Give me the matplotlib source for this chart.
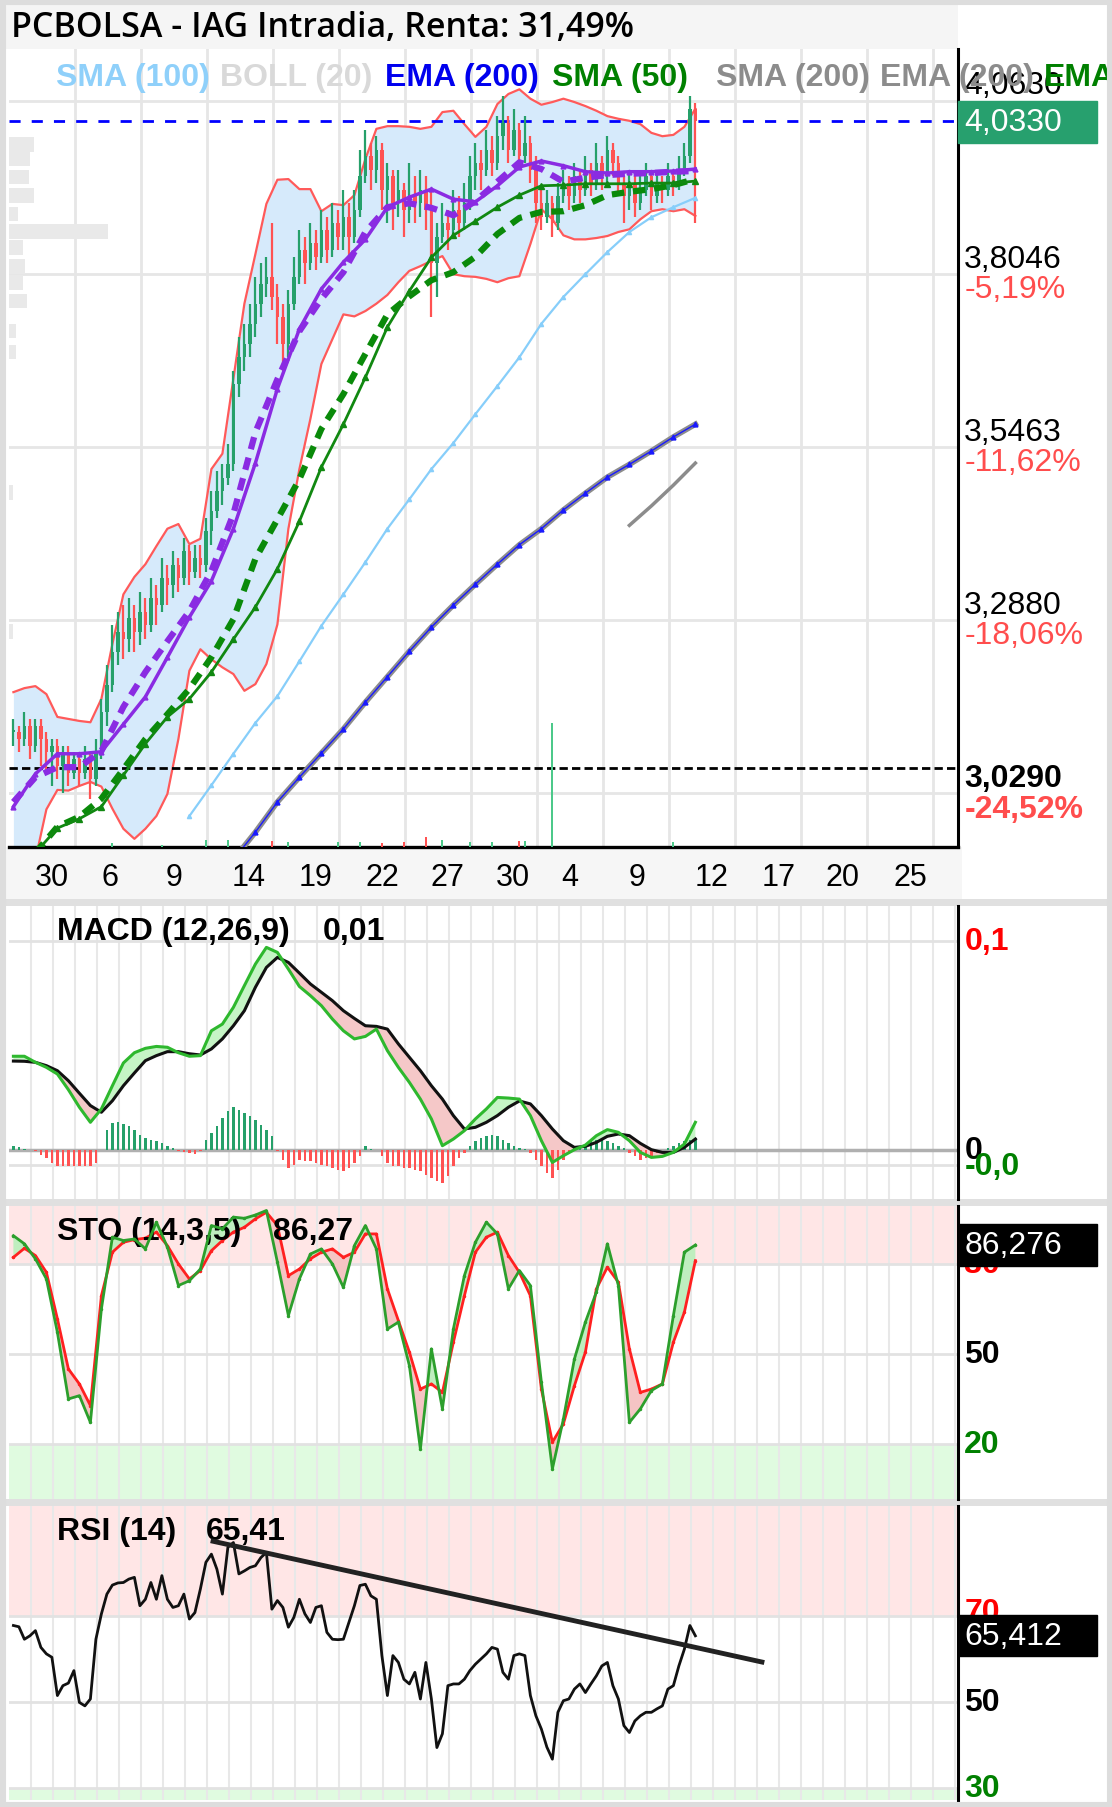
import numpy as np
import matplotlib.pyplot as plt
from matplotlib.patches import Rectangle
from matplotlib.transforms import blended_transform_factory

plt.rcParams['font.family'] = ['Liberation Sans', 'DejaVu Sans']

# ---------------- datos (indice = barra intradia) ----------------
close = [3.12, 3.11, 3.13, 3.10, 3.13, 3.11, 3.09, 3.10, 3.07, 3.09,
         3.06, 3.08, 3.06, 3.08, 3.05, 3.09, 3.15, 3.19, 3.24, 3.27,
         3.26, 3.29, 3.27, 3.30, 3.28, 3.32, 3.31, 3.35, 3.34, 3.37,
         3.35, 3.39, 3.36, 3.38, 3.37, 3.42, 3.45, 3.48, 3.50, 3.52,
         3.64, 3.68, 3.70, 3.73, 3.76, 3.79, 3.80, 3.77, 3.74, 3.70,
         3.76, 3.80, 3.84, 3.82, 3.85, 3.83, 3.87, 3.84, 3.88, 3.86,
         3.89, 3.86, 3.90, 3.95, 3.98, 3.96, 3.99, 3.93, 3.95, 3.91,
         3.93, 3.90, 3.92, 3.91, 3.93, 3.90, 3.82, 3.86, 3.88, 3.87,
         3.90, 3.88, 3.91, 3.95, 3.97, 3.96, 3.99, 3.97, 4.01, 4.03,
         3.99, 4.02, 3.98, 4.00, 3.96, 3.91, 3.89, 3.91, 3.88, 3.92,
         3.94, 3.92, 3.95, 3.93, 3.96, 3.94, 3.97, 3.95, 3.99, 3.97,
         3.94, 3.92, 3.94, 3.91, 3.93, 3.95, 3.92, 3.94, 3.93, 3.95,
         3.94, 3.96, 3.98, 4.05, 4.033]
high = [3.14, 3.13, 3.15, 3.14, 3.14, 3.14, 3.12, 3.11, 3.11, 3.10,
        3.10, 3.09, 3.09, 3.10, 3.09, 3.11, 3.17, 3.22, 3.28, 3.30,
        3.31, 3.32, 3.31, 3.33, 3.32, 3.35, 3.34, 3.38, 3.37, 3.39,
        3.38, 3.41, 3.40, 3.40, 3.40, 3.44, 3.48, 3.51, 3.52, 3.55,
        3.66, 3.71, 3.73, 3.76, 3.80, 3.82, 3.83, 3.88, 3.79, 3.76,
        3.78, 3.83, 3.87, 3.86, 3.88, 3.87, 3.90, 3.89, 3.91, 3.90,
        3.93, 3.91, 3.93, 3.99, 4.02, 4.00, 4.01, 4.00, 3.97, 3.96,
        3.96, 3.94, 3.97, 3.95, 3.96, 3.95, 3.93, 3.88, 3.91, 3.90,
        3.93, 3.92, 3.94, 3.98, 4.00, 3.99, 4.02, 4.01, 4.04, 4.07,
        4.04, 4.05, 4.03, 4.04, 4.01, 3.98, 3.93, 3.93, 3.92, 3.94,
        3.96, 3.95, 3.97, 3.96, 3.98, 3.97, 4.00, 3.98, 4.01, 4.00,
        3.98, 3.95, 3.96, 3.95, 3.95, 3.97, 3.96, 3.96, 3.95, 3.97,
        3.96, 3.98, 4.00, 4.07, 4.06]
low = [3.10, 3.09, 3.10, 3.08, 3.09, 3.07, 3.06, 3.04, 3.05, 3.03,
       3.04, 3.05, 3.04, 3.05, 3.02, 3.04, 3.08, 3.13, 3.18, 3.22,
       3.23, 3.24, 3.24, 3.25, 3.26, 3.27, 3.28, 3.30, 3.31, 3.32,
       3.33, 3.34, 3.34, 3.35, 3.35, 3.36, 3.40, 3.44, 3.46, 3.49,
       3.51, 3.62, 3.66, 3.68, 3.71, 3.74, 3.77, 3.75, 3.70, 3.66,
       3.68, 3.75, 3.79, 3.79, 3.81, 3.81, 3.82, 3.82, 3.83, 3.84,
       3.84, 3.83, 3.85, 3.89, 3.94, 3.93, 3.94, 3.90, 3.88, 3.87,
       3.89, 3.86, 3.88, 3.88, 3.89, 3.87, 3.74, 3.77, 3.85, 3.84,
       3.86, 3.86, 3.87, 3.90, 3.93, 3.93, 3.95, 3.95, 3.96, 3.99,
       3.97, 3.98, 3.96, 3.97, 3.94, 3.88, 3.87, 3.88, 3.86, 3.87,
       3.91, 3.90, 3.91, 3.91, 3.92, 3.92, 3.93, 3.93, 3.94, 3.95,
       3.92, 3.88, 3.90, 3.89, 3.90, 3.92, 3.90, 3.91, 3.91, 3.92,
       3.92, 3.93, 3.95, 3.97, 3.88]

# Bollinger (20): una muestra cada 2 barras
boll_up = [3.180, 3.186, 3.189, 3.177, 3.143, 3.140, 3.137, 3.135, 3.170, 3.252,
           3.326, 3.352, 3.371, 3.398, 3.424, 3.431, 3.401, 3.409, 3.513, 3.536,
           3.648, 3.760, 3.834, 3.909, 3.945, 3.946, 3.931, 3.931, 3.898, 3.909,
           3.907, 3.922, 3.976, 4.021, 4.025, 4.025, 4.024, 4.021, 4.024, 4.046,
           4.048, 4.028, 4.009, 4.024, 4.058, 4.073, 4.080, 4.066, 4.057, 4.061,
           4.066, 4.061, 4.055, 4.048, 4.040, 4.036, 4.033, 4.028, 4.015, 4.010,
           4.012, 4.024, 4.051]
boll_lo = [2.900, 2.910, 2.930, 3.005, 3.034, 3.033, 3.040, 3.046, 3.039, 3.006,
           2.976, 2.961, 2.976, 2.995, 3.028, 3.110, 3.212, 3.244, 3.229, 3.217,
           3.207, 3.182, 3.192, 3.222, 3.281, 3.424, 3.513, 3.588, 3.670, 3.707,
           3.744, 3.741, 3.749, 3.760, 3.773, 3.792, 3.809, 3.816, 3.824, 3.831,
           3.804, 3.801, 3.800, 3.797, 3.792, 3.798, 3.801, 3.849, 3.901, 3.886,
           3.862, 3.856, 3.856, 3.858, 3.861, 3.867, 3.871, 3.886, 3.898, 3.901,
           3.898, 3.901, 3.891]

# medias moviles: una muestra cada 4 barras
purple_solid = [3.009, 3.058, 3.088, 3.088, 3.091, 3.132, 3.173, 3.232, 3.292, 3.346,
                3.424, 3.522, 3.633, 3.722, 3.782, 3.822, 3.856, 3.904, 3.919, 3.931,
                3.916, 3.912, 3.936, 3.964, 3.973, 3.966, 3.957, 3.955, 3.957, 3.957,
                3.958, 3.961]
purple_dash = [3.016, 3.053, 3.068, 3.068, 3.092, 3.158, 3.210, 3.256, 3.301, 3.361,
               3.446, 3.568, 3.647, 3.719, 3.767, 3.807, 3.867, 3.904, 3.910, 3.903,
               3.892, 3.913, 3.942, 3.971, 3.961, 3.942, 3.948, 3.952, 3.954, 3.955,
               3.957, 3.958]
sma50 = [2.940, 2.977, 2.991, 3.009, 3.056, 3.103, 3.143, 3.170, 3.210, 3.259,
         3.307, 3.364, 3.435, 3.516, 3.580, 3.650, 3.725, 3.779, 3.829, 3.862,
         3.883, 3.904, 3.922, 3.936, 3.937, 3.939, 3.939, 3.939, 3.940, 3.940,
         3.943]                      # desde la barra 4
green_dash = [2.940, 2.979, 2.994, 3.021, 3.065, 3.110, 3.147, 3.185, 3.232, 3.289,
              3.379, 3.438, 3.498, 3.573, 3.625, 3.685, 3.744, 3.771, 3.795, 3.807,
              3.830, 3.864, 3.888, 3.897, 3.898, 3.907, 3.922, 3.927, 3.931, 3.937,
              3.946]                 # desde la barra 4
sma100 = [2.995, 3.041, 3.088, 3.134, 3.174, 3.226, 3.279, 3.326, 3.374, 3.424,
          3.468, 3.513, 3.552, 3.595, 3.637, 3.680, 3.730, 3.770, 3.804, 3.837,
          3.867, 3.889, 3.904, 3.918]  # desde la barra 32
ema200 = [2.930, 2.971, 3.016, 3.053, 3.089, 3.125, 3.165, 3.203, 3.241, 3.277,
          3.310, 3.341, 3.371, 3.400, 3.424, 3.452, 3.477, 3.501, 3.520, 3.540,
          3.561, 3.580]              # desde la barra 40
sma200 = [3.429, 3.458, 3.489, 3.522]  # desde la barra 112

# volumen (barras sueltas) y perfil de volumen
vol_bar = [18, 27, 35, 39, 47, 50, 59, 63, 67, 71, 75, 78, 83, 87, 92, 93, 98, 120]
vol_val = [3, 2, 6, 6, 5, 4, 4, 4, 3, 4, 8, 6, 4, 4, 5, 5, 100, 4]
vol_up = [1, 1, 1, 1, 0, 1, 1, 1, 0, 0, 0, 1, 1, 1, 0, 1, 1, 1]
vp_price = [3.998, 3.976, 3.949, 3.921, 3.894, 3.868, 3.844, 3.816, 3.792, 3.764, 3.719, 3.688, 3.478, 3.270]
vp_vol = [4.5, 3.8, 3.6, 4.5, 1.6, 18.0, 2.5, 2.9, 2.5, 3.3, 1.3, 1.3, 0.7, 0.7]

grid_prices = [4.0630, 3.8046, 3.5463, 3.2880, 3.0290]
pct_labels = ['', '-5,19%', '-11,62%', '-18,06%', '-24,52%']
last_price = 4.033
ref_price = 3.067

xtick_pos = [7.0, 17.6, 29.2, 42.8, 55.0, 67.0, 79.0, 90.8, 101.2, 113.4, 127.0, 139.2, 150.8, 163.0]
xtick_lab = ['30', '6', '9', '14', '19', '22', '27', '30', '4', '9', '12', '17', '20', '25']

# MACD (12,26,9): una muestra cada 2 barras; histograma por barra (x 1e-4)
macd = [0.0447, 0.0447, 0.0418, 0.0394, 0.0362, 0.0287, 0.0203, 0.0131, 0.0195, 0.0306,
        0.0415, 0.0464, 0.0485, 0.0494, 0.0490, 0.0464, 0.0447, 0.0450, 0.0569, 0.0601,
        0.0681, 0.0785, 0.0888, 0.0968, 0.0944, 0.0864, 0.0781, 0.0737, 0.0689, 0.0625,
        0.0569, 0.0530, 0.0542, 0.0577, 0.0474, 0.0394, 0.0322, 0.0242, 0.0147, 0.0019,
        0.0051, 0.0091, 0.0147, 0.0195, 0.0250, 0.0247, 0.0242, 0.0163, 0.0043, -0.0061,
        -0.0029, 0.0000, 0.0022, 0.0067, 0.0096, 0.0083, 0.0043, -0.0013, -0.0037, -0.0032,
        -0.0013, 0.0027, 0.0131]
signal = [0.0424, 0.0423, 0.0418, 0.0402, 0.0378, 0.0330, 0.0270, 0.0211, 0.0179, 0.0234,
          0.0306, 0.0367, 0.0426, 0.0450, 0.0469, 0.0469, 0.0459, 0.0453, 0.0482, 0.0530,
          0.0593, 0.0665, 0.0777, 0.0872, 0.0920, 0.0896, 0.0845, 0.0793, 0.0753, 0.0713,
          0.0665, 0.0628, 0.0593, 0.0590, 0.0577, 0.0506, 0.0442, 0.0378, 0.0306, 0.0242,
          0.0163, 0.0099, 0.0107, 0.0131, 0.0163, 0.0203, 0.0233, 0.0219, 0.0163, 0.0099,
          0.0043, 0.0011, 0.0016, 0.0035, 0.0064, 0.0075, 0.0067, 0.0030, 0.0000, -0.0013,
          -0.0013, 0.0011, 0.0051]
hist_e4 = [19, 13, 5, 0, -8, -24, -40, -64, -77, -80,
           -80, -80, -80, -80, -77, -64, 0, 96, 128, 131,
           124, 112, 96, 72, 56, 48, 40, 32, 19, 10,
           -8, -13, -16, -19, -8, 48, 80, 112, 152, 183,
           203, 191, 175, 160, 144, 120, 96, 64, -8, -48,
           -88, -72, -48, -56, -56, -64, -72, -80, -88, -96,
           -104, -88, -64, -32, 16, 3, 0, -32, -64, -80,
           -80, -88, -88, -96, -104, -120, -136, -152, -160, -128,
           -80, -40, -16, 16, 40, 56, 64, 72, 64, 48,
           32, 19, 10, 3, -16, -48, -80, -112, -136, -96,
           -48, -16, 8, 19, 29, 40, 48, 48, 40, 32,
           19, 8, -16, -32, -48, -40, -29, -16, -3, 8,
           19, 32, 40, 48, 56]

# Estocastico (14,3,5): una muestra cada 2 barras
sto_k = [89.4, 86.7, 81.7, 75.0, 57.2, 35.0, 36.1, 27.2, 65.0, 88.9,
         87.8, 88.3, 85.0, 93.9, 85.6, 72.8, 74.4, 78.3, 92.8, 91.7,
         95.6, 95.2, 96.3, 97.8, 80.6, 62.8, 75.0, 83.3, 85.0, 80.0,
         72.2, 86.1, 92.8, 85.0, 58.3, 60.6, 46.1, 18.3, 51.7, 31.7,
         58.3, 76.1, 87.2, 93.9, 90.0, 71.7, 77.8, 72.8, 40.6, 11.7,
         28.3, 48.3, 60.6, 70.6, 86.7, 72.8, 27.2, 31.7, 37.8, 40.0,
         62.8, 83.9, 86.3]
sto_d = [82.2, 85.2, 82.8, 77.2, 61.7, 45.0, 40.0, 32.8, 69.4, 83.9,
         87.2, 88.1, 88.6, 90.6, 86.1, 80.0, 75.0, 77.8, 84.4, 87.8,
         90.6, 92.2, 95.0, 97.2, 92.8, 76.1, 78.3, 81.7, 83.9, 85.0,
         82.2, 83.9, 90.0, 90.0, 71.7, 61.1, 50.6, 38.3, 40.0, 37.2,
         53.9, 69.4, 83.9, 88.9, 90.6, 82.8, 77.2, 69.4, 38.3, 20.6,
         26.7, 39.4, 50.6, 71.7, 78.9, 73.9, 51.7, 37.2, 38.3, 40.0,
         53.9, 63.9, 81.1]

# RSI (14) por barra y directriz bajista
rsi = [67.8, 67.5, 64.6, 65.4, 66.6, 62.7, 61.2, 60.4, 51.5, 53.8,
       54.4, 57.3, 49.9, 49.1, 50.7, 64.6, 70.5, 75.1, 77.2, 77.7,
       77.8, 78.6, 79.0, 72.4, 73.9, 77.8, 73.9, 79.4, 73.9, 72.0,
       72.4, 75.1, 69.3, 70.8, 76.3, 82.5, 84.4, 80.9, 75.1, 86.0,
       87.1, 79.8, 80.5, 81.3, 81.7, 83.6, 84.8, 71.6, 73.6, 72.0,
       67.4, 69.7, 73.9, 70.5, 68.5, 72.0, 72.4, 66.2, 64.6, 64.5,
       64.6, 68.5, 72.4, 77.1, 77.4, 74.7, 73.9, 60.8, 51.5, 60.8,
       59.2, 55.3, 54.2, 56.9, 50.7, 59.2, 50.7, 39.4, 42.6, 53.8,
       54.2, 54.2, 55.3, 57.3, 58.8, 60.0, 61.2, 62.7, 62.3, 56.9,
       55.3, 60.8, 61.2, 60.8, 51.5, 46.8, 43.7, 39.5, 36.7, 47.6,
       50.3, 50.7, 53.0, 54.2, 52.2, 54.2, 56.1, 58.4, 59.2, 53.8,
       50.7, 44.5, 42.9, 45.6, 46.8, 47.6, 47.6, 48.4, 49.1, 53.0,
       53.8, 58.4, 62.3, 67.8, 65.4]
rsi_trend_x = [36.3, 136.1]
rsi_trend_y = [87.4, 59.3]

# ---------------- figura ----------------
W, H = 1112, 1808
GREEN, RED = '#26a06a', '#ff5252'
X0, X1 = -0.8, 171.75

fig = plt.figure(figsize=(W / 100, H / 100), dpi=100)


def frame(x0, y0, x1, y1):
    return [x0 / W, 1 - y1 / H, (x1 - x0) / W, (y1 - y0) / H]


def fbox(x0, y0, x1, y1, color, z=-5):
    fig.add_artist(Rectangle((x0 / W, 1 - y1 / H), (x1 - x0) / W, (y1 - y0) / H,
                             transform=fig.transFigure, color=color, lw=0, zorder=z))


def ftext(x, y, s, **kw):
    fig.text(x / W, 1 - y / H, s, va='center', **kw)


fbox(5, 5, 958, 50, '#f5f5f5')
fbox(5, 848, 962, 900, '#f6f6f6')
for y in (900, 1200, 1500):
    fbox(0, y, W, y + 7, '#e0e0e0')

# ---- panel principal ----
ax = fig.add_axes(frame(9, 50, 958, 848))
ax.set_xlim(X0, X1)
ax.set_ylim(2.9488, 4.1402)
ax.set_axisbelow(True)
ax.set_yticks(grid_prices)
ax.set_xticks(xtick_pos)
ax.set_xticklabels(xtick_lab)
ax.set_xticks(np.arange(11.2, X1, 12), minor=True)
ax.grid(axis='y', which='major', color='#e6e6e6', lw=2)
ax.grid(axis='x', which='minor', color='#e6e6e6', lw=2)
ax.tick_params(which='both', length=0)
ax.tick_params(axis='y', labelleft=False)
ax.tick_params(axis='x', labelsize=22, pad=11)
for s in ('left', 'top'):
    ax.spines[s].set_visible(False)
ax.spines['bottom'].set_linewidth(2.4)
ax.spines['right'].set_linewidth(2.2)

ax.barh(vp_price, vp_vol, height=0.022, left=X0, color='#e9e9e9', zorder=1)

kb = np.arange(len(boll_up)) * 2
ax.fill_between(kb, boll_lo, boll_up, color='#d6eafb', lw=0, zorder=2)
ax.plot(kb, boll_up, color='#ff5a5a', lw=1.6, zorder=3)
ax.plot(kb, boll_lo, color='#ff5a5a', lw=1.6, zorder=3)

c = np.array(close)
o = np.r_[c[0], c[:-1]]
xb = np.arange(len(c))
col = np.where(c >= o, GREEN, RED)
ax.vlines(xb, low, high, colors=col, lw=1.6, zorder=4)
ax.bar(xb, np.maximum(np.abs(c - o), 0.004), bottom=np.minimum(c, o), width=0.6,
       color=col, zorder=4)

mb = np.arange(len(purple_solid)) * 4
ax.plot(4 + np.arange(len(green_dash)) * 4, green_dash, color='#0a8a0a', lw=4.5,
        dashes=(2, 1.4), zorder=5)
ax.plot(4 + np.arange(len(sma50)) * 4, sma50, color='#118811', lw=2,
        marker='^', ms=4, zorder=5)
ax.plot(mb, purple_dash, color='#8a2be2', lw=4.5, dashes=(2, 1.4), zorder=5)
ax.plot(mb, purple_solid, color='#8a2be2', lw=2.5, marker='^', ms=3.5, zorder=6)
ax.plot(32 + np.arange(len(sma100)) * 4, sma100, color='#87cefa', lw=1.6,
        marker='^', ms=3, zorder=5)
e_x = 40 + np.arange(len(ema200)) * 4
ax.plot(e_x, ema200, color='#8c8c8c', lw=4, zorder=5)
ax.plot(e_x, ema200, color='#1a1aff', lw=1, marker='^', ms=3.5, zorder=5)
ax.plot(112 + np.arange(len(sma200)) * 4, sma200, color='#8c8c8c', lw=2.5, zorder=5)

ax.axhline(last_price, color='#0000ff', lw=2, dashes=(4, 4), zorder=3)
ax.axhline(ref_price, color='black', lw=2, dashes=(3, 1.5), zorder=3)

axv = ax.twinx()
axv.set_ylim(0, 645)
axv.bar(vol_bar, vol_val, width=0.4, color=['#4cc98a' if u else RED for u in vol_up])
axv.axis('off')

tr = blended_transform_factory(ax.transAxes, ax.transData)
for i, lev in enumerate(grid_prices):
    w = 'bold' if i == len(grid_prices) - 1 else 'normal'
    ax.annotate(f'{lev:.4f}'.replace('.', ','), (1, lev), xycoords=tr, xytext=(4.5, 11),
                textcoords='offset points', va='center', fontsize=23, fontweight=w,
                annotation_clip=False)
    if pct_labels[i]:
        ax.annotate(pct_labels[i], (1, lev), xycoords=tr, xytext=(4.5, -11),
                    textcoords='offset points', va='center', fontsize=23, fontweight=w,
                    color='#ff4d4d', annotation_clip=False)
ax.add_patch(Rectangle((1.0, last_price - 0.033), 139 / 949, 0.063, transform=tr,
                       color='#27a06e', clip_on=False, zorder=10))
ax.annotate(f'{last_price:.4f}'.replace('.', ','), (1, last_price - 0.002), xycoords=tr,
            xytext=(4.5, 0), textcoords='offset points', va='center', fontsize=23,
            color='white', annotation_clip=False, zorder=11)

# titulo y leyenda
ftext(11, 28, 'PCBOLSA - IAG Intradia, Renta: 31,49%', family=['Open Sans', 'DejaVu Sans'],
      fontweight='semibold', fontsize=24.5)
legend = [('SMA (100)', '#8fd0fa', 56), ('BOLL (20)', '#d9d9d9', 220), ('EMA (200)', '#0000ee', 385),
          ('SMA (50)', '#008000', 552), ('SMA (200)', '#8c8c8c', 716), ('EMA (200)', '#8c8c8c', 880),
          ('EMA', '#008000', 1044)]
for lbl, cc, xx in legend:
    ftext(xx, 78, lbl, color=cc, fontweight='bold', fontsize=23)


# ---- paneles inferiores ----
def sub_axes(y0, y1, ylim, hlines):
    a = fig.add_axes(frame(9, y0, 958, y1))
    a.set_xlim(X0, X1)
    a.set_ylim(*ylim)
    a.set_axisbelow(True)
    a.set_xticks([])
    a.set_xticks(np.arange(3.2, X1, 4), minor=True)
    a.set_yticks(hlines)
    a.grid(axis='y', color='#e2e2e2', lw=2)
    a.grid(axis='x', which='minor', color='#e8e8e8', lw=1.5)
    a.tick_params(which='both', length=0, labelleft=False, labelbottom=False)
    for s in ('left', 'top', 'bottom'):
        a.spines[s].set_visible(False)
    a.spines['right'].set_linewidth(2.2)
    return a


def rlabel(a, y, s, color, bold=True, dy=0):
    a.annotate(s, (1, y), xycoords=blended_transform_factory(a.transAxes, a.transData),
               xytext=(4.5, dy), textcoords='offset points', va='center', fontsize=23,
               fontweight='bold' if bold else 'normal', color=color, annotation_clip=False)


def vbox(a, y, half, s):
    t = blended_transform_factory(a.transAxes, a.transData)
    a.add_patch(Rectangle((1.0, y - half), 139 / 949, 2 * half, transform=t, color='black',
                          clip_on=False, zorder=10))
    a.annotate(s, (1, y), xycoords=t, xytext=(4.5, 0), textcoords='offset points',
               va='center', fontsize=23, color='white', annotation_clip=False, zorder=11)


k2 = np.arange(len(macd)) * 2

# MACD
am = sub_axes(907, 1200, (-0.0236, 0.1166), [0.1, -0.0072])
am.axhline(0, color='#b0b0b0', lw=2.5, zorder=1)
m, sg = np.array(macd), np.array(signal)
am.fill_between(k2, m, sg, where=m >= sg, interpolate=True, color='#c6f5c6', lw=0, zorder=2)
am.fill_between(k2, m, sg, where=m < sg, interpolate=True, color='#f5c8c8', lw=0, zorder=2)
hv = np.array(hist_e4) / 1e4
am.bar(np.arange(len(hv)), hv, width=0.5, color=np.where(hv >= 0, GREEN, RED), zorder=2)
am.plot(k2, sg, color='#111111', lw=2.2, zorder=3)
am.plot(k2, m, color='#2eb82e', lw=2.2, zorder=4)
am.text(0.0506, 0.915, 'MACD (12,26,9)', transform=am.transAxes, va='center',
        fontsize=23, fontweight='bold')
am.text(0.331, 0.915, '0,01', transform=am.transAxes, va='center', fontsize=23, fontweight='bold')
rlabel(am, 0.1, '0,1', '#ff0000')
rlabel(am, 0.0, '0', 'black')
rlabel(am, -0.0079, '-0,0', '#008000', dy=0)

# Estocastico
ast = sub_axes(1207, 1500, (1.67, 99.3), [80, 50, 20])
ast.axhspan(80, 100, color='#ffe6e6', lw=0, zorder=0.1)
ast.axhspan(0, 20, color='#e0fbe0', lw=0, zorder=0.1)
kk, dd = np.array(sto_k), np.array(sto_d)
ast.fill_between(k2, kk, dd, where=kk >= dd, interpolate=True, color='#bfeebf', lw=0, zorder=2)
ast.fill_between(k2, kk, dd, where=kk < dd, interpolate=True, color='#f5c4c4', lw=0, zorder=2)
ast.plot(k2, dd, color='#ff2020', lw=2, marker='.', ms=3, zorder=3)
ast.plot(k2, kk, color='#2c9f2c', lw=2, marker='.', ms=3, zorder=4)
ast.text(0.0506, 0.915, 'STO (14,3,5)', transform=ast.transAxes, va='center',
         fontsize=23, fontweight='bold')
ast.text(0.278, 0.915, '86,27', transform=ast.transAxes, va='center', fontsize=23, fontweight='bold')
rlabel(ast, 80, '80', '#ff0000')
rlabel(ast, 50, '50', 'black')
rlabel(ast, 20, '20', '#008000')
vbox(ast, sto_k[-1], 7, '86,276')

# RSI
ar = sub_axes(1507, 1801, (27.2, 95.6), [70, 50, 30])
ar.axhspan(70, 100, color='#ffe6e6', lw=0, zorder=0.1)
ar.axhspan(0, 30, color='#e0fbe0', lw=0, zorder=0.1)
ar.plot(np.arange(len(rsi)), rsi, color='#111111', lw=2, zorder=3)
ar.plot(rsi_trend_x, rsi_trend_y, color='#222222', lw=3.5, zorder=4)
ar.text(0.0506, 0.915, 'RSI (14)', transform=ar.transAxes, va='center',
        fontsize=23, fontweight='bold')
ar.text(0.2076, 0.915, '65,41', transform=ar.transAxes, va='center', fontsize=23, fontweight='bold')
rlabel(ar, 70, '70', '#ff0000', dy=3)
rlabel(ar, 50, '50', 'black')
rlabel(ar, 30, '30', '#008000')
vbox(ar, rsi[-1], 4.77, '65,412')

fig.add_artist(Rectangle((0, 0), 1, 1, transform=fig.transFigure, fill=False,
                         ec='#dddddd', lw=8, zorder=20))

fig.savefig('out.png', dpi=100)
